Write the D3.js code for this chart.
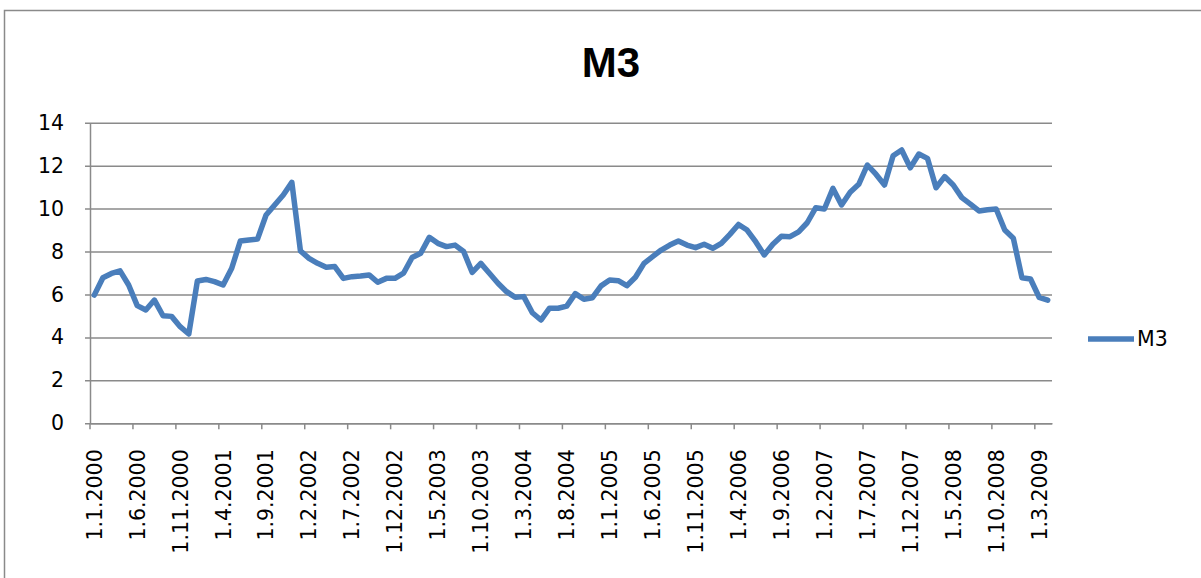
<!DOCTYPE html>
<html>
<head>
<meta charset="utf-8">
<script src="https://cdn.jsdelivr.net/npm/d3@7"></script>
<style>
	body { margin: 0; background: #fff; }
	svg { display: block; }
	text { font-family: "DejaVu Sans", sans-serif; fill: #000; }
</style>
</head>
<body>
<div id="chart"></div>
<script>
// monthly M3 growth, Jan 2000 .. Apr 2009
const startYear = 2000;
const monthCount = 112;
const m3Values = [
	5.97, 6.78, 6.98, 7.10, 6.44, 5.48, 5.28, 5.74, 5.01, 4.98, 4.50, 4.16,
	6.63, 6.70, 6.60, 6.44, 7.22, 8.49, 8.54, 8.58, 9.70, 10.17, 10.63, 11.22,
	8.03, 7.68, 7.45, 7.27, 7.30, 6.75, 6.83, 6.86, 6.91, 6.57, 6.75, 6.75,
	6.99, 7.72, 7.92, 8.66, 8.38, 8.23, 8.30, 8.00, 7.03, 7.45, 6.99, 6.52,
	6.13, 5.87, 5.90, 5.15, 4.81, 5.36, 5.36, 5.46, 6.04, 5.78, 5.85, 6.40,
	6.67, 6.64, 6.41, 6.80, 7.45, 7.76, 8.07, 8.30, 8.49, 8.30, 8.18, 8.34,
	8.15, 8.38, 8.80, 9.26, 9.00, 8.46, 7.84, 8.34, 8.71, 8.69, 8.92, 9.34,
	10.04, 9.98, 10.94, 10.17, 10.76, 11.13, 12.03, 11.60, 11.10, 12.46, 12.73, 11.90,
	12.54, 12.34, 10.97, 11.49, 11.10, 10.51, 10.21, 9.89, 9.95, 9.98, 9.00, 8.62,
	6.78, 6.72, 5.87, 5.74
];
const yTicks = [0, 2, 4, 6, 8, 10, 12, 14];
const labelEvery = 5;
const seriesName = "M3";

// category labels like 1.6.2000
const months = d3.range(monthCount).map(i => {
	const y = startYear + Math.floor(i / 12);
	const m = (i % 12) + 1;
	return `1.${m}.${y}`;
});
const data = months.map((m, i) => ({ month: m, value: m3Values[i] }));

const W = 1201, H = 578;
const plot = { left: 90, right: 1052, top: 122.7, bottom: 423.3 };
const gridColor = "#8a8a8a";
const lineColor = "#4a7ebb";
const labelSize = "20.5px";

const svg = d3.select("#chart").append("svg")
	.attr("width", W)
	.attr("height", H);

// outer chart frame (runs off right and bottom)
svg.append("rect")
	.attr("x", 4.5).attr("y", 10.5)
	.attr("width", W + 10).attr("height", H + 10)
	.attr("fill", "#fff")
	.attr("stroke", gridColor)
	.attr("stroke-width", 1.5);

svg.append("text")
	.attr("x", 611).attr("y", 77)
	.attr("text-anchor", "middle")
	.style("font-family", "'Liberation Sans', Arial, sans-serif")
	.style("font-weight", "bold")
	.style("font-size", "42px")
	.text("M3");

const x = d3.scaleBand()
	.domain(months)
	.range([plot.left, plot.right])
	.padding(0);
const bw = x.bandwidth();

const y = d3.scaleLinear()
	.domain([0, 14])
	.range([plot.bottom, plot.top]);

// horizontal gridlines + y axis
const yAxis = svg.append("g")
	.attr("transform", `translate(${plot.left},0)`)
	.call(d3.axisLeft(y).tickValues(yTicks).tickSize(5).tickPadding(21).tickSizeOuter(0));
yAxis.select(".domain").attr("stroke", gridColor).attr("stroke-width", 1.5);
yAxis.selectAll(".tick line")
	.attr("x1", -5)
	.attr("x2", plot.right - plot.left)
	.attr("stroke", gridColor)
	.attr("stroke-width", 1.5);
yAxis.selectAll("text")
	.style("font-size", labelSize)
	.style("font-family", "'DejaVu Sans', sans-serif")
	.attr("fill", "#000");

// x axis, ticks sit on category boundaries
const xAxis = svg.append("g")
	.attr("transform", `translate(0,${plot.bottom})`)
	.call(d3.axisBottom(x)
		.tickValues(months.filter((_, i) => i % labelEvery === 0))
		.tickSize(6)
		.tickSizeOuter(0));
xAxis.select(".domain").attr("stroke", gridColor).attr("stroke-width", 1.5);
xAxis.selectAll(".tick line")
	.attr("x1", -bw / 2).attr("x2", -bw / 2)
	.attr("stroke", gridColor)
	.attr("stroke-width", 1.5);
xAxis.selectAll("text")
	.attr("transform", "rotate(-90)")
	.attr("x", -26)
	.attr("y", 0)
	.attr("dy", "0.36em")
	.attr("text-anchor", "end")
	.style("font-size", labelSize)
	.style("font-family", "'DejaVu Sans', sans-serif")
	.attr("fill", "#000");

const line = d3.line()
	.x(d => x(d.month) + bw / 2)
	.y(d => y(d.value));

svg.append("path")
	.datum(data)
	.attr("d", line)
	.attr("fill", "none")
	.attr("stroke", lineColor)
	.attr("stroke-width", 5.5)
	.attr("stroke-linejoin", "round")
	.attr("stroke-linecap", "round");

// legend
const legend = svg.append("g").attr("transform", "translate(1088,339)");
legend.append("line")
	.attr("x1", 0).attr("x2", 46)
	.attr("stroke", lineColor)
	.attr("stroke-width", 5.5);
legend.append("text")
	.attr("x", 49).attr("y", 0)
	.attr("dy", "0.36em")
	.style("font-size", labelSize)
	.text(seriesName);
</script>
</body>
</html>
